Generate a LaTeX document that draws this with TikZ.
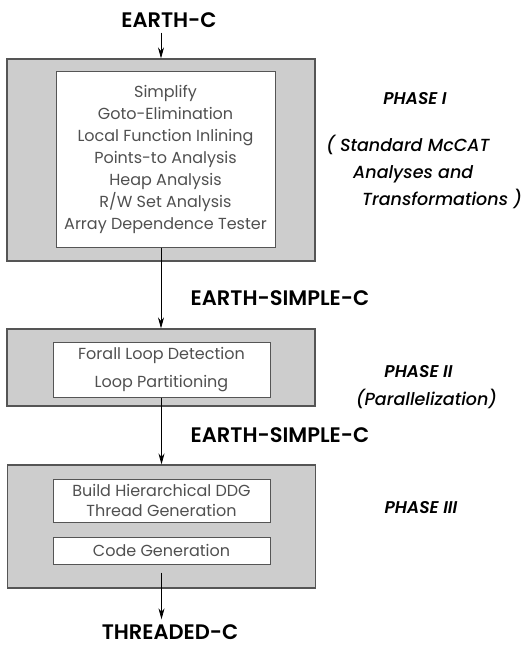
\documentclass[tikz,border=0pt]{standalone}
\usepackage{fontspec}
\setmainfont{Poppins}
\newfontfamily\demifont{Poppins}[UprightFont={* SemiBold}, ItalicFont={* SemiBold Italic}]
\newfontfamily\notefont{Poppins}[UprightFont={* Medium}, ItalicFont={* Medium Italic}]
\usetikzlibrary{arrows.meta}
\definecolor{boxtext}{HTML}{505050}
\definecolor{shade}{HTML}{CDCDCD}
\definecolor{rim}{HTML}{555555}
\tikzset{
  phasebox/.style={draw=rim, line width=1.2pt, fill=shade, minimum width=308pt, inner sep=0pt},
  passbox/.style={draw=rim, line width=1pt, fill=white, inner sep=0pt, align=center,
    text=boxtext, font=\fontsize{16}{22}\selectfont},
  langlabel/.style={font=\demifont\fontsize{21}{24}\selectfont, text=black, inner sep=0pt},
  phaselabel/.style={font=\notefont\fontsize{17.5}{27}\selectfont\itshape, text=black, align=center, inner sep=0pt},
  phasetitle/.style={font=\demifont\fontsize{17}{20}\selectfont\itshape, text=black, inner sep=0pt},
  flow/.style={line width=0.8pt, -{Stealth[length=11pt,width=6pt]}}
}
\begin{document}
\begin{tikzpicture}[x=1pt, y=-1pt]
\useasboundingbox (0,0) rectangle (524,647);

% source language
\node[langlabel] (earthc) at (169,20) {EARTH-C};

% Phase I
\node[phasebox, minimum height=202pt] (p1out) at (161,160) {};
\node[passbox, minimum width=219pt, minimum height=175pt] (p1in) at (165.5,159.5)
  {Simplify\\Goto-Elimination\\Local Function Inlining\\Points-to Analysis\\Heap Analysis\\R/W Set Analysis\\Array Dependence Tester};
\node[phasetitle] (ph1) at (415,99) {PHASE I};
\node[phaselabel, align=left, anchor=west] (ph1note) at (326,172)
  {( Standard McCAT\\\hspace*{27pt}Analyses and\\\hspace*{36pt}Transformations )};

\node[langlabel] (esc1) at (280,298) {EARTH-SIMPLE-C};

% Phase II
\node[phasebox, minimum height=77pt] (p2out) at (161,367.5) {};
\node[passbox, minimum width=217pt, minimum height=55pt, font=\fontsize{16}{28}\selectfont] (p2in) at (161.5,369.5)
  {Forall Loop Detection\\Loop Partitioning};
\node[phasetitle] (ph2) at (418.5,372) {PHASE II};
\node[phaselabel] (ph2note) at (426.5,399) {(Parallelization)};

\node[langlabel] (esc2) at (280,435) {EARTH-SIMPLE-C};

% Phase III
\node[phasebox, minimum height=123pt] (p3out) at (161.5,526.5) {};
\node[passbox, minimum width=217pt, minimum height=43pt, font=\fontsize{16}{20}\selectfont] (p3a) at (161.5,500.5)
  {Build Hierarchical DDG\\Thread Generation};
\node[passbox, minimum width=217pt, minimum height=27pt] (p3b) at (161.5,550.5)
  {Code Generation};
\node[phasetitle] (ph3) at (421,508) {PHASE III};

% target language
\node[langlabel] (threaded) at (170,632) {THREADED-C};

% flow between the phases
\draw[flow] (p1out.north |- earthc.south) ++(0,5) -- (p1out.north);
\draw[flow] (p1in.south -| p2out.north) -- (p2out.north);
\draw[flow] (p2in.south -| p3out.north) -- (p3out.north);
\coordinate (tail) at ([yshift=-8pt]p3b.south);
\draw[flow, shorten >=5pt] (tail) -- (tail |- threaded.north);
\end{tikzpicture}
\end{document}
